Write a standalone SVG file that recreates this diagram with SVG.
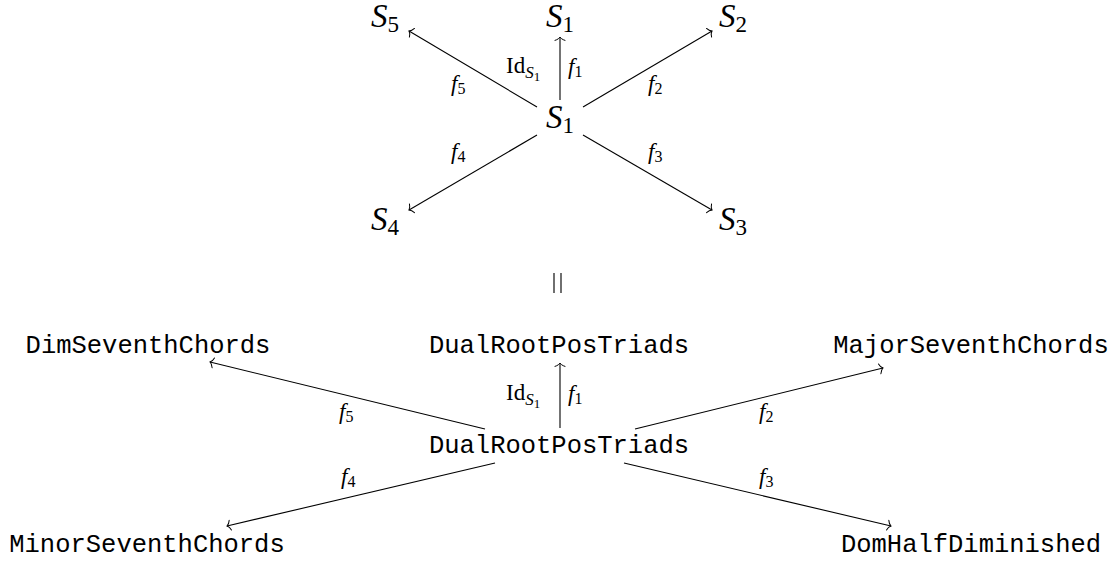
<svg xmlns="http://www.w3.org/2000/svg" width="1116" height="562" viewBox="0 0 1116 562">
<defs>
<marker id="ah" markerUnits="userSpaceOnUse" markerWidth="14" markerHeight="14" refX="0" refY="0" viewBox="-7 -7 14 14" orient="auto" overflow="visible">
<path d="M -3.4 -5 C -2.6 -2.2 -1.0 -0.6 0 0 C -1.0 0.6 -2.6 2.2 -3.4 5" fill="none" stroke="#000" stroke-width="1" stroke-linecap="round"/>
</marker>
<style>
.s{font-family:"Liberation Serif",serif;font-size:33px;fill:#000}
.s .i{font-style:italic}
.s .sub{font-size:23px}
.l{font-family:"Liberation Serif",serif;font-size:23px;fill:#000}
.l .i{font-style:italic}
.l .sub{font-size:16px}
.l .ss{font-size:17px;font-style:italic}
.l .ss1{font-size:13px}
.m{font-family:"Liberation Mono",monospace;font-size:25.5px;fill:#000;text-anchor:middle}
.e{fill:none;stroke:#000;stroke-width:1.1;marker-end:url(#ah)}
</style>
</defs>
<rect width="1116" height="562" fill="#fff"/>

<g id="top-nodes">
<g id="t-s5"><text class="s" x="371" y="27"><tspan class="i">S</tspan><tspan class="sub" dy="5">5</tspan></text></g>
<g id="t-s1top"><text class="s" x="546" y="27"><tspan class="i">S</tspan><tspan class="sub" dy="5">1</tspan></text></g>
<g id="t-s2"><text class="s" x="719" y="27"><tspan class="i">S</tspan><tspan class="sub" dy="5">2</tspan></text></g>
<g id="t-s1c"><text class="s" x="546" y="128"><tspan class="i">S</tspan><tspan class="sub" dy="5">1</tspan></text></g>
<g id="t-s4"><text class="s" x="371" y="230"><tspan class="i">S</tspan><tspan class="sub" dy="5">4</tspan></text></g>
<g id="t-s3"><text class="s" x="719" y="230"><tspan class="i">S</tspan><tspan class="sub" dy="5">3</tspan></text></g>
</g>

<g id="top-connectors">
<line class="e" x1="537" y1="107" x2="409" y2="31"/>
<line class="e" x1="560" y1="100" x2="560" y2="37"/>
<line class="e" x1="583" y1="107" x2="712" y2="31"/>
<line class="e" x1="537" y1="135" x2="409" y2="210"/>
<line class="e" x1="583" y1="135" x2="712" y2="210"/>
<text class="l" x="506" y="73">Id<tspan class="ss" dy="5">S</tspan><tspan class="ss1" dy="3">1</tspan></text>
<text class="l" x="568" y="74"><tspan class="i">f</tspan><tspan class="sub" dy="3">1</tspan></text>
<text class="l" x="451" y="91"><tspan class="i">f</tspan><tspan class="sub" dy="3">5</tspan></text>
<text class="l" x="648" y="91"><tspan class="i">f</tspan><tspan class="sub" dy="3">2</tspan></text>
<text class="l" x="451" y="159"><tspan class="i">f</tspan><tspan class="sub" dy="3">4</tspan></text>
<text class="l" x="648" y="159"><tspan class="i">f</tspan><tspan class="sub" dy="3">3</tspan></text>
</g>

<g id="equality">
<line x1="554" y1="273" x2="554" y2="293" stroke="#222" stroke-width="1.3"/>
<line x1="561" y1="273" x2="561" y2="293" stroke="#222" stroke-width="1.3"/>
</g>

<g id="bottom-nodes">
<g id="b-dim"><text class="m" x="148" y="353">DimSeventhChords</text></g>
<g id="b-dualtop"><text class="m" x="559" y="353">DualRootPosTriads</text></g>
<g id="b-major"><text class="m" x="971" y="353">MajorSeventhChords</text></g>
<g id="b-dualc"><text class="m" x="559" y="453">DualRootPosTriads</text></g>
<g id="b-minor"><text class="m" x="147" y="552">MinorSeventhChords</text></g>
<g id="b-dom"><text class="m" x="971" y="552">DomHalfDiminished</text></g>
</g>

<g id="bottom-connectors">
<line class="e" x1="485" y1="429" x2="210" y2="362"/>
<line class="e" x1="560" y1="428" x2="560" y2="363"/>
<line class="e" x1="635" y1="429" x2="883" y2="368"/>
<line class="e" x1="495" y1="463" x2="227" y2="526"/>
<line class="e" x1="624" y1="463" x2="891" y2="526"/>
<text class="l" x="506" y="400">Id<tspan class="ss" dy="5">S</tspan><tspan class="ss1" dy="3">1</tspan></text>
<text class="l" x="568" y="401"><tspan class="i">f</tspan><tspan class="sub" dy="3">1</tspan></text>
<text class="l" x="339" y="419"><tspan class="i">f</tspan><tspan class="sub" dy="3">5</tspan></text>
<text class="l" x="759" y="419"><tspan class="i">f</tspan><tspan class="sub" dy="3">2</tspan></text>
<text class="l" x="341" y="484"><tspan class="i">f</tspan><tspan class="sub" dy="3">4</tspan></text>
<text class="l" x="759" y="484"><tspan class="i">f</tspan><tspan class="sub" dy="3">3</tspan></text>
</g>
</svg>
